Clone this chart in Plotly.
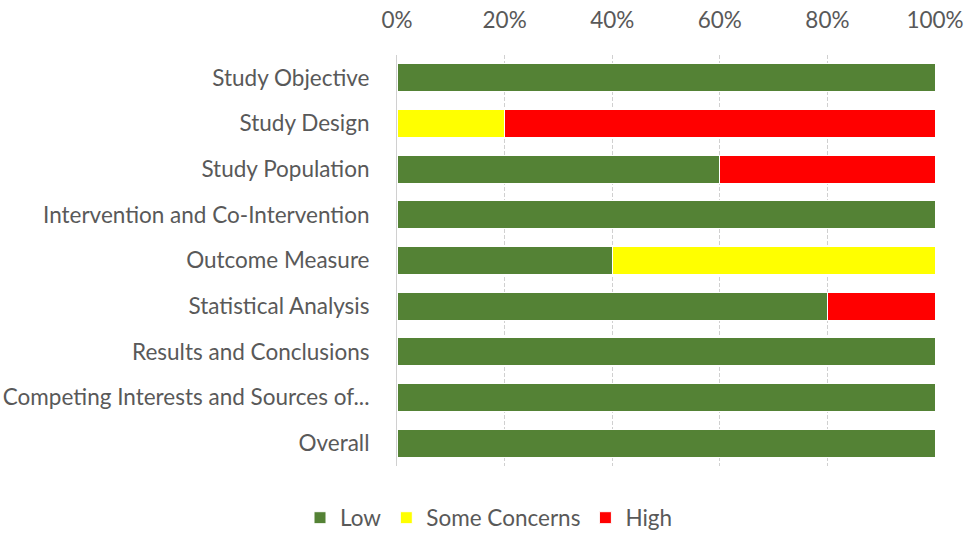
import plotly.graph_objects as go

categories = ["Study Objective", "Study Design", "Study Population",
              "Intervention and Co-Intervention", "Outcome Measure",
              "Statistical Analysis", "Results and Conclusions",
              "Competing Interests and Sources of...", "Overall"]
low = [100, 0, 60, 100, 40, 80, 100, 100, 100]
some_concerns = [0, 20, 0, 0, 60, 0, 0, 0, 0]
high = [0, 80, 40, 0, 0, 20, 0, 0, 0]
tick_vals = [0, 20, 40, 60, 80, 100]
tick_text = ["0%", "20%", "40%", "60%", "80%", "100%"]

series = [("Low", low, "#548235"), ("Some Concerns", some_concerns, "#FFFF00"), ("High", high, "#FF0000")]

fig = go.Figure()
for name, vals, col in series:
    fig.add_trace(go.Bar(y=categories, x=vals, name=name, orientation="h",
                         marker=dict(color=col, line=dict(color="white", width=1))))

fig.update_layout(
    barmode="stack", bargap=0.39,
    width=978, height=533,
    margin=dict(l=397, r=43, t=55, b=67),
    plot_bgcolor="white", paper_bgcolor="white",
    font=dict(family="Lato", size=22.5, color="#595959"),
    legend=dict(orientation="h", xref="container", yref="container", x=0.5, y=0.028,
                xanchor="center", yanchor="middle", traceorder="normal",
                font=dict(size=22.5, color="#595959")),
    xaxis=dict(side="top", range=[0, 100], tickvals=tick_vals, ticktext=tick_text,
               showgrid=True, gridcolor="#D0D0D0", griddash="4px,2px", zeroline=False,
               showline=False, ticks="", fixedrange=True, automargin=False,
               ticklabelstandoff=22),
    yaxis=dict(autorange="reversed", showline=True, linecolor="#D0D0D0", ticks="",
               ticklabelstandoff=22, showgrid=False, automargin=False, fixedrange=True),
)
fig.write_html("out.html", config={"displayModeBar": False},
               post_script="document.body.style.margin='0';document.body.style.padding='0';")
